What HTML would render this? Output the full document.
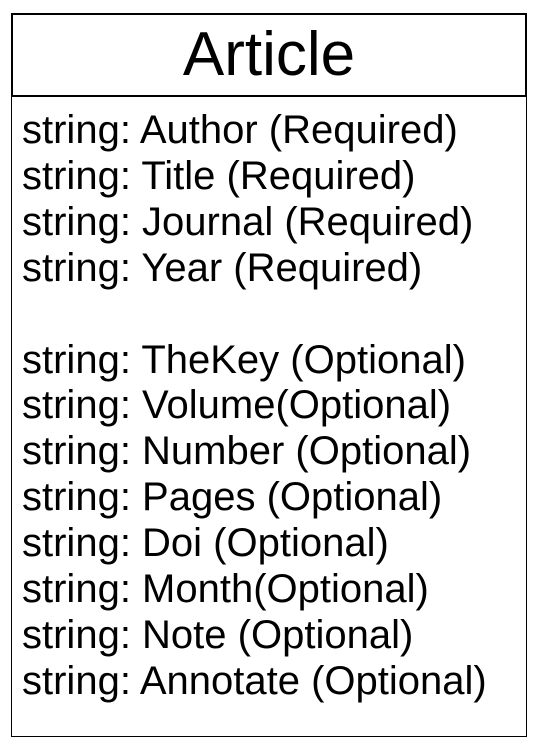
<!DOCTYPE html>
<html><head><style>
body{margin:0;width:534px;height:744px;background:#fff;position:relative;overflow:hidden;font-family:"Liberation Sans",Arial,sans-serif;}
#hdr{position:absolute;left:11px;top:13px;width:512px;height:80px;border:2px solid #000;text-align:center;font-size:62px;line-height:80px;}
#body{position:absolute;left:11px;top:95px;width:514px;height:641px;border:1px solid #000;border-top:none;}
#txt{position:absolute;left:22px;top:108px;font-size:40px;line-height:45.9px;white-space:pre;}
</style></head><body>
<div id="hdr">Article</div>
<div id="body"></div>
<div id="txt">string: Author (Required)
string: Title (Required)
string: Journal (Required)
string: Year (Required)

string: TheKey (Optional)
string: Volume(Optional)
string: Number (Optional)
string: Pages (Optional)
string: Doi (Optional)
string: Month(Optional)
string: Note (Optional)
string: Annotate (Optional)</div>
</body></html>
